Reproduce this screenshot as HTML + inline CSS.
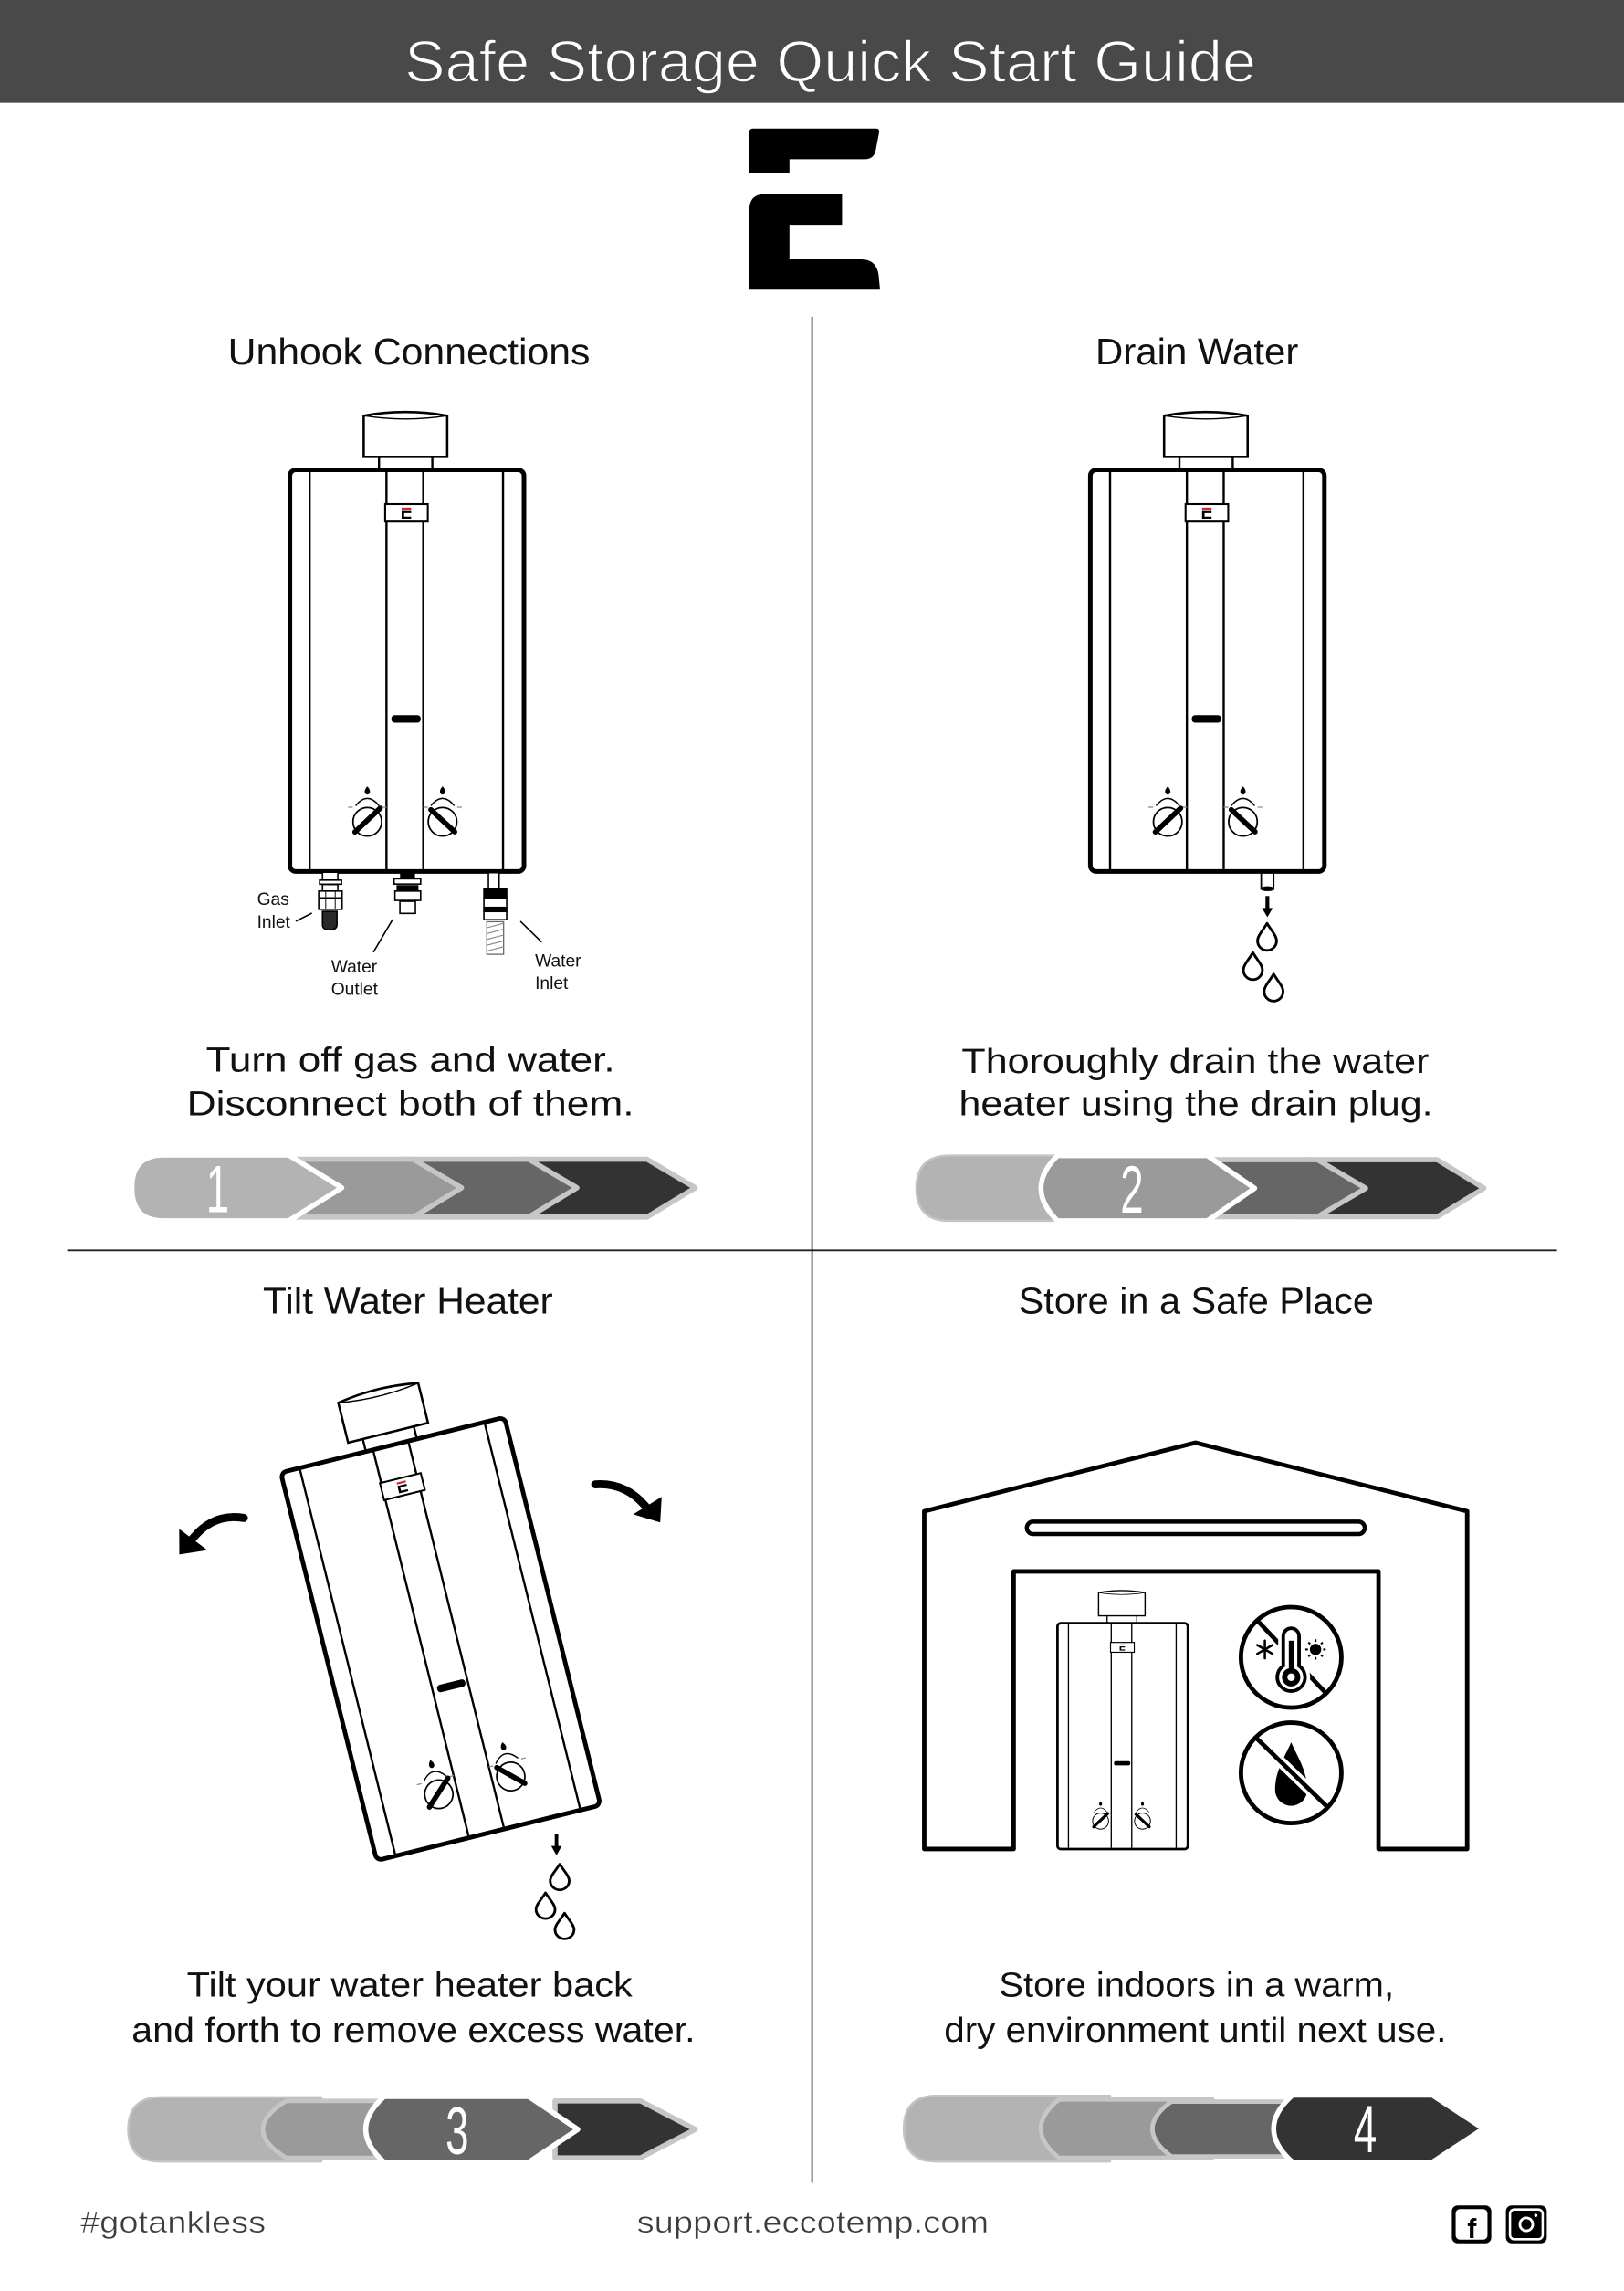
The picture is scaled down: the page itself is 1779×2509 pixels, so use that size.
<!DOCTYPE html>
<html><head><meta charset="utf-8"><title>Safe Storage Quick Start Guide</title>
<style>
html,body{margin:0;padding:0;background:#fff;}
svg{display:block;}
text{font-family:"Liberation Sans","DejaVu Sans",sans-serif;}
</style></head><body>
<svg xmlns="http://www.w3.org/2000/svg" width="1779" height="2509" viewBox="0 0 1111.875 1568.125" preserveAspectRatio="none">
<defs>
  <g id="hb">
    <!-- cap + neck -->
    <rect x="259.5" y="311.5" width="36.5" height="10.5" fill="#fff" stroke="#000" stroke-width="1.5"/>
    <path d="M249,284.5 Q277.6,279.5 306.2,284.5 L306.2,312.7 L249,312.7 Z" fill="#fff" stroke="#000" stroke-width="1.6"/>
    <path d="M249,284.5 Q277.6,289 306.2,284.5" fill="none" stroke="#000" stroke-width="0.9"/>
    <!-- body -->
    <rect x="198.5" y="321.6" width="160.25" height="274.9" rx="4" fill="#fff" stroke="#000" stroke-width="3.1"/>
    <g stroke="#000" stroke-width="1.5">
      <line x1="212" y1="323" x2="212" y2="595"/>
      <line x1="264.6" y1="323" x2="264.6" y2="595"/>
      <line x1="289.8" y1="323" x2="289.8" y2="595"/>
      <line x1="344.4" y1="323" x2="344.4" y2="595"/>
    </g>
    <!-- badge -->
    <rect x="263.7" y="345" width="29.2" height="12" fill="#fff" stroke="#000" stroke-width="1.3"/>
    <rect x="275" y="347.4" width="6.5" height="1.3" fill="#d42020"/>
    <path d="M275,349.8 h6.5 v1.4 h-4.8 v2.4 h4.8 v1.4 h-6.5 z" fill="#000"/>
    <!-- display -->
    <rect x="268" y="489.5" width="20" height="5.2" rx="2.2" fill="#000"/>
    <!-- left knob -->
    <path d="M243.5,551.5 Q251.5,541.5 259.5,551.5" fill="none" stroke="#000" stroke-width="0.9"/>
    <path d="M251.5,538.3 C248.8,541 249.4,543.6 251.5,543.9 C253.6,543.6 254.2,541 251.5,538.3Z" fill="#000"/>
    <path d="M238.3,552.5 h3.2 M261.5,552.5 h3.2" stroke="#888" stroke-width="0.8"/>
    <circle cx="251.5" cy="562.5" r="9.8" fill="#fff" stroke="#000" stroke-width="1.1"/>
    <line x1="243" y1="569.5" x2="260.3" y2="553.2" stroke="#000" stroke-width="3.6" stroke-linecap="round"/>
    <!-- right knob -->
    <path d="M295,551.5 Q303,541.5 311,551.5" fill="none" stroke="#000" stroke-width="0.9"/>
    <path d="M303,538.3 C300.3,541 300.9,543.6 303,543.9 C305.1,543.6 305.7,541 303,538.3Z" fill="#000"/>
    <path d="M289.8,552.5 h3.2 M313,552.5 h3.2" stroke="#888" stroke-width="0.8"/>
    <circle cx="303" cy="562.5" r="9.8" fill="#fff" stroke="#000" stroke-width="1.1"/>
    <line x1="295" y1="554.2" x2="311.3" y2="569.4" stroke="#000" stroke-width="3.6" stroke-linecap="round"/>
  </g>
  <path id="drop" d="M0,0 C3,5 6.5,8.5 6.5,12 A6.5,6.5 0 0 1 -6.5,12 C-6.5,8.5 -3,5 0,0 Z" fill="#fff" stroke="#000" stroke-width="1.8" stroke-linejoin="round"/>
</defs>

<!-- header -->
<rect x="0" y="0" width="1112" height="70.4" fill="#494949"/>
<text x="277" y="56" font-size="40" fill="#fff" stroke="#494949" stroke-width="0.9" textLength="583" lengthAdjust="spacingAndGlyphs">Safe Storage Quick Start Guide</text>

<!-- logo -->
<path d="M513,90.5 Q513,88 515.5,88 H600 Q602.3,88 601.8,91 L599.5,103 Q598.3,109 592,109 H540.5 V118.2 H513 Z" fill="#000"/>
<path d="M513,143 Q513.5,133 523,133 H576.5 V153.8 H540.5 V177.5 H589.5 Q600,177.5 601.5,188 L602.5,198.3 H513 Z" fill="#000"/>

<!-- dividers -->
<line x1="556" y1="216.7" x2="556" y2="1494" stroke="#333" stroke-width="1.1"/>
<line x1="46" y1="855.8" x2="1066" y2="855.8" stroke="#222" stroke-width="1.2"/>

<!-- section titles -->
<g font-size="25.5" fill="#111">
  <text x="156" y="249.3" textLength="248" lengthAdjust="spacingAndGlyphs">Unhook Connections</text>
  <text x="750" y="249.3" textLength="139" lengthAdjust="spacingAndGlyphs">Drain Water</text>
  <text x="180" y="899" textLength="198.5" lengthAdjust="spacingAndGlyphs">Tilt Water Heater</text>
  <text x="697.3" y="899" textLength="243.3" lengthAdjust="spacingAndGlyphs">Store in a Safe Place</text>
</g>

<!-- descriptions -->
<g font-size="23.5" fill="#111">
  <text x="141" y="733.3" textLength="280" lengthAdjust="spacingAndGlyphs">Turn off gas and water.</text>
  <text x="127.9" y="763.5" textLength="306.2" lengthAdjust="spacingAndGlyphs">Disconnect both of them.</text>
  <text x="658.4" y="734.4" textLength="320" lengthAdjust="spacingAndGlyphs">Thoroughly drain the water</text>
  <text x="656.6" y="763.5" textLength="324.4" lengthAdjust="spacingAndGlyphs">heater using the drain plug.</text>
  <text x="127.9" y="1366.7" textLength="305.1" lengthAdjust="spacingAndGlyphs">Tilt your water heater back</text>
  <text x="90.2" y="1397.5" textLength="385.8" lengthAdjust="spacingAndGlyphs">and forth to remove excess water.</text>
  <text x="684" y="1366.7" textLength="270.4" lengthAdjust="spacingAndGlyphs">Store indoors in a warm,</text>
  <text x="646.4" y="1397.5" textLength="343.9" lengthAdjust="spacingAndGlyphs">dry environment until next use.</text>
</g>

<!-- heater 1 -->
<use href="#hb"/>
<!-- connections -->
<g stroke="#000" stroke-width="1">
  <!-- gas inlet -->
  <rect x="220.8" y="597" width="10.5" height="5.4" fill="#fff"/>
  <rect x="218.8" y="602.4" width="15" height="2.8" fill="#fff"/>
  <rect x="220.8" y="605.4" width="10.5" height="4.5" fill="#fff"/>
  <rect x="218.2" y="609.9" width="16" height="12.5" fill="#fff"/>
  <line x1="218.2" y1="614.6" x2="234.2" y2="614.6"/>
  <line x1="223" y1="609.9" x2="223" y2="622.4" stroke-width="0.6"/>
  <line x1="229.5" y1="609.9" x2="229.5" y2="622.4" stroke-width="0.6"/>
  <path d="M220.8,623.8 H230.7 V633 Q230.7,636.4 225.75,636.4 Q220.8,636.4 220.8,633 Z" fill="#2a2a2a"/>
  <!-- water outlet -->
  <rect x="274.4" y="597.3" width="9.2" height="4.2" fill="#000"/>
  <rect x="269.8" y="601.5" width="18.2" height="3.6" fill="#fff"/>
  <rect x="272" y="606.3" width="14" height="3.6" fill="#000"/>
  <rect x="270.4" y="609.9" width="17.6" height="6.4" fill="#fff"/>
  <rect x="273.8" y="616.9" width="10.6" height="8.3" fill="#fff"/>
  <!-- water inlet -->
  <rect x="334.4" y="597.3" width="7.3" height="11.2" fill="#fff"/>
  <rect x="331.3" y="608.5" width="15.6" height="6.2" fill="#000"/>
  <rect x="331.3" y="614.7" width="15.6" height="6.4" fill="#fff"/>
  <rect x="331.3" y="621.1" width="15.6" height="2.8" fill="#000"/>
  <rect x="331.3" y="623.9" width="15.6" height="5.6" fill="#fff"/>
  <rect x="333.3" y="630.9" width="11.5" height="22.3" fill="#fff" stroke="#666" stroke-width="0.8"/>
  <path d="M333.3,635 l11.5,-3 M333.3,639 l11.5,-3 M333.3,643 l11.5,-3 M333.3,647 l11.5,-3 M333.3,651 l11.5,-3" stroke="#888" stroke-width="0.7"/>
  <!-- leaders -->
  <line x1="202.5" y1="630.6" x2="213.5" y2="625"/>
  <line x1="255.6" y1="651.8" x2="268.8" y2="629.4"/>
  <line x1="356.3" y1="630.6" x2="370.8" y2="644.8"/>
</g>
<g font-size="12" fill="#111">
  <text x="176" y="619.5">Gas</text>
  <text x="176" y="635">Inlet</text>
  <text x="226.7" y="665.5">Water</text>
  <text x="226.7" y="681">Outlet</text>
  <text x="366.3" y="661.5">Water</text>
  <text x="366.3" y="677">Inlet</text>
</g>

<!-- heater 2 -->
<use href="#hb" transform="translate(548,0)"/>
<rect x="863.5" y="597.5" width="8.5" height="11" fill="#fff" stroke="#000" stroke-width="1.1"/>
<ellipse cx="867.75" cy="608.3" rx="4.25" ry="1.2" fill="none" stroke="#000" stroke-width="0.9"/>
<line x1="867.7" y1="613.3" x2="867.7" y2="622.5" stroke="#000" stroke-width="2.6"/>
<polygon points="864,621.5 871.4,621.5 867.7,627.8" fill="#000"/>
<use href="#drop" transform="translate(867.5,632)"/>
<use href="#drop" transform="translate(857.8,652)"/>
<use href="#drop" transform="translate(872,666.7)"/>

<!-- heater 3 tilted -->
<use href="#hb" transform="translate(192.2,1008) rotate(-13.9) scale(0.985,0.995) translate(-198.5,-321.6)"/>
<line x1="381" y1="1255.6" x2="381" y2="1264.5" stroke="#000" stroke-width="2.4"/>
<polygon points="377.4,1263.5 384.6,1263.5 381,1270" fill="#000"/>
<use href="#drop" transform="translate(383.2,1276) scale(1,0.95)"/>
<use href="#drop" transform="translate(373.5,1295.6) scale(1,0.95)"/>
<use href="#drop" transform="translate(386.5,1309.5) scale(1,0.95)"/>
<!-- tilt arrows -->
<path d="M167,1039 Q146,1035.5 132,1053" fill="none" stroke="#000" stroke-width="5.5" stroke-linecap="round"/>
<polygon points="122.8,1064 122.7,1046.5 142,1061" fill="#000"/>
<path d="M407.5,1016 Q428,1014.5 442,1031" fill="none" stroke="#000" stroke-width="5.5" stroke-linecap="round"/>
<polygon points="452,1042 453,1024.5 433.5,1036.5" fill="#000"/>

<!-- storage building -->
<path d="M632.8,1265.6 V1034.4 L818.5,987.5 L1004.5,1034.4 V1265.6 H943.8 V1075.6 H694 V1265.6 Z" fill="none" stroke="#000" stroke-width="3" stroke-linejoin="round"/>
<rect x="703" y="1041.5" width="231.4" height="8.5" rx="4.25" fill="none" stroke="#000" stroke-width="2.8"/>
<use href="#hb" transform="translate(724,1111) scale(0.557,0.5625) translate(-198.5,-321.6)"/>

<!-- no temperature icon -->
<circle cx="884" cy="1134.4" r="34.4" fill="#fff" stroke="#000" stroke-width="3"/>
<line x1="861" y1="1109.4" x2="907" y2="1158" stroke="#000" stroke-width="3"/>
<path d="M878.6,1140.2 V1119.9 A5.4,5.4 0 0 1 889.4,1119.9 V1140.2 A9.5,9.5 0 1 1 878.6,1140.2 Z" fill="#fff" stroke="#fff" stroke-width="7"/>
<path d="M878.6,1140.2 V1119.9 A5.4,5.4 0 0 1 889.4,1119.9 V1140.2 A9.5,9.5 0 1 1 878.6,1140.2 Z" fill="#fff" stroke="#000" stroke-width="2.4"/>
<rect x="882.4" y="1123" width="3.4" height="22" fill="#000"/>
<circle cx="884" cy="1148" r="6.3" fill="#000"/>
<circle cx="884" cy="1148" r="2.6" fill="#fff"/>
<g stroke="#000" stroke-width="1.6" stroke-linecap="round">
  <line x1="866" y1="1123" x2="866" y2="1135"/>
  <line x1="860.8" y1="1126" x2="871.2" y2="1132"/>
  <line x1="860.8" y1="1132" x2="871.2" y2="1126"/>
</g>
<circle cx="900.7" cy="1129" r="3.9" fill="#000"/>
<g stroke="#000" stroke-width="1.3">
  <line x1="900.7" y1="1122" x2="900.7" y2="1123.8"/>
  <line x1="900.7" y1="1134.2" x2="900.7" y2="1136"/>
  <line x1="893.7" y1="1129" x2="895.5" y2="1129"/>
  <line x1="905.9" y1="1129" x2="907.7" y2="1129"/>
  <line x1="895.8" y1="1124.1" x2="897" y2="1125.3"/>
  <line x1="904.4" y1="1132.7" x2="905.6" y2="1133.9"/>
  <line x1="895.8" y1="1133.9" x2="897" y2="1132.7"/>
  <line x1="904.4" y1="1125.3" x2="905.6" y2="1124.1"/>
</g>

<!-- no moisture icon -->
<circle cx="884" cy="1213.5" r="34.4" fill="#fff" stroke="#000" stroke-width="3"/>
<path d="M884,1192.5 C888,1202 895,1212 895,1225 A11,11 0 0 1 873,1225 C873,1212 880,1202 884,1192.5 Z" fill="#000"/>
<line x1="868" y1="1197.3" x2="900.5" y2="1228.8" stroke="#fff" stroke-width="7.5"/>
<line x1="860" y1="1189.5" x2="908" y2="1236" stroke="#000" stroke-width="3"/>

<!-- progress bar 1 -->
<g stroke-linejoin="round">
  <path d="M355,793.5 H443 L476,813 L443,833 H355 Z" fill="#333" stroke="#c6c6c6" stroke-width="3.5"/>
  <path d="M275,793.5 H362 L395,813 L362,833 H275 Z" fill="#666" stroke="#c6c6c6" stroke-width="3.5"/>
  <path d="M195,793.5 H283 L316,813 L283,833 H195 Z" fill="#9a9a9a" stroke="#c6c6c6" stroke-width="3.5"/>
  <path d="M112,790.6 H197.6 L234,813 L197.6,835.6 H112 Q90.3,835.6 90.3,813 Q90.3,790.6 112,790.6 Z" fill="#b3b3b3" stroke="#fff" stroke-width="3.5"/>
</g>
<!-- progress bar 2 -->
<g stroke-linejoin="round">
  <path d="M890,793.8 H984 L1016,813.3 L984,832.8 H890 Z" fill="#333" stroke="#c6c6c6" stroke-width="3.5"/>
  <path d="M810,793.8 H902 L935,813.3 L902,832.8 H810 Z" fill="#666" stroke="#c6c6c6" stroke-width="3.5"/>
  <path d="M650,791 H760 V835.6 H650 Q627.4,835.6 627.4,813.3 Q627.4,791 650,791 Z" fill="#b3b3b3" stroke="#c4c4c4" stroke-width="1.5"/>
  <path d="M724,791 H826.6 L859,813.3 L826.6,835.6 H724 Q701.4,813.3 724,791 Z" fill="#9a9a9a" stroke="#fff" stroke-width="3.5"/>
</g>
<!-- progress bar 3 -->
<g stroke-linejoin="round">
  <path d="M380,1438 H438.5 L476,1457.5 L438.5,1477 H380 Z" fill="#333" stroke="#c6c6c6" stroke-width="3.5"/>
  <path d="M110,1435.5 H220 V1479.5 H110 Q87.8,1479.5 87.8,1457.5 Q87.8,1435.5 110,1435.5 Z" fill="#b3b3b3" stroke="#c4c4c4" stroke-width="1.5"/>
  <path d="M196,1438 H300 V1477 H196 Q164,1457.5 196,1438 Z" fill="#9a9a9a" stroke="#c6c6c6" stroke-width="3"/>
  <path d="M263,1435 H362 L395.6,1457.5 L362,1480 H263 Q237.8,1457.5 263,1435 Z" fill="#666" stroke="#fff" stroke-width="3.5"/>
</g>
<!-- progress bar 4 -->
<g stroke-linejoin="round">
  <path d="M641,1434.5 H760 V1479.5 H641 Q618.8,1479.5 618.8,1457 Q618.8,1434.5 641,1434.5 Z" fill="#b3b3b3" stroke="#c4c4c4" stroke-width="1.5"/>
  <path d="M725,1437 H830 V1477 H725 Q700.2,1457 725,1437 Z" fill="#9a9a9a" stroke="#c6c6c6" stroke-width="3"/>
  <path d="M802,1438.5 H910 V1476 H802 Q776,1457 802,1438.5 Z" fill="#666" stroke="#c6c6c6" stroke-width="3"/>
  <path d="M885,1434 H980.6 L1015.6,1457 L980.6,1480 H885 Q859,1457 885,1434 Z" fill="#333" stroke="#fff" stroke-width="3.5"/>
</g>
<g font-size="46" fill="#fff" text-anchor="middle">
  <text transform="translate(149,829.6) scale(0.62,1)">1</text>
  <text transform="translate(775,830) scale(0.62,1)">2</text>
  <text transform="translate(313,1474.4) scale(0.62,1)">3</text>
  <text transform="translate(934.7,1473) scale(0.62,1)">4</text>
</g>

<!-- footer -->
<text x="55" y="1528" font-size="21" fill="#3c3c3c" stroke="#fff" stroke-width="0.35" textLength="127" lengthAdjust="spacingAndGlyphs">#gotankless</text>
<text x="436" y="1528" font-size="21" fill="#3c3c3c" stroke="#fff" stroke-width="0.35" textLength="241" lengthAdjust="spacingAndGlyphs">support.eccotemp.com</text>
<rect x="994" y="1509.5" width="27" height="26" rx="4" fill="#000"/>
<rect x="996.6" y="1512" width="21.8" height="21" rx="3" fill="#fff"/>
<text x="1007.7" y="1532" font-size="19" font-weight="bold" fill="#000" text-anchor="middle">f</text>
<rect x="1031" y="1509.5" width="28" height="26" rx="4" fill="#000"/>
<rect x="1033.8" y="1512.3" width="22.4" height="20.4" rx="3" fill="none" stroke="#fff" stroke-width="1.6"/>
<circle cx="1045" cy="1522.5" r="4.4" fill="none" stroke="#fff" stroke-width="1.8"/>
<circle cx="1051.5" cy="1516.3" r="1.1" fill="#fff"/>
</svg>
</body></html>
